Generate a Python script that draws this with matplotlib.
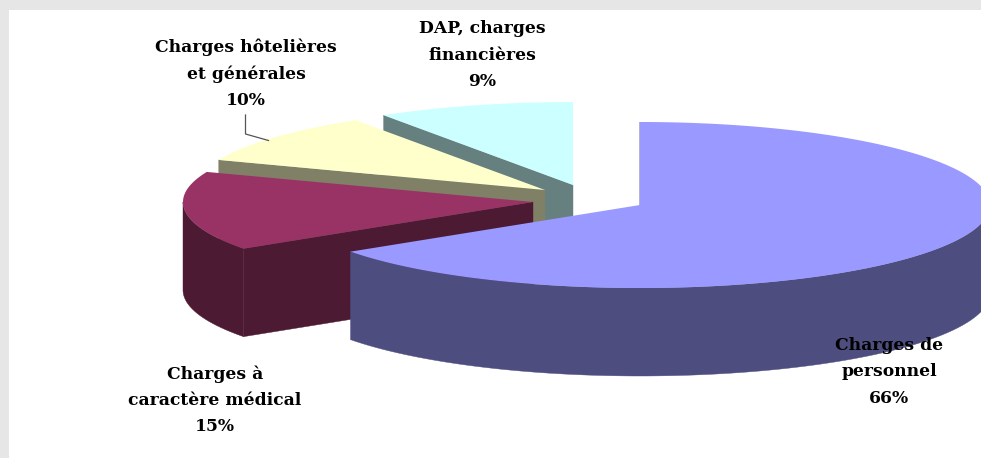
import numpy as np
import matplotlib
matplotlib.use("Agg")
import matplotlib.pyplot as plt
from matplotlib.patches import Polygon, Rectangle

# Data
categories = ["Charges de\npersonnel", "Charges à\ncaractère médical",
              "Charges hôtelières\net générales", "DAP, charges\nfinancières"]
values = [65.5, 15.4, 10.0, 9.1]
percent_labels = ["66%", "15%", "10%", "9%"]

# Style / layout
top_colors = ["#9999ff", "#993366", "#ffffcc", "#ccffff"]
wall_colors = ["#4d4d80", "#4d1a33", "#808066", "#668080"]
apexes = [(640, 205), (533, 202), (545, 190), (573, 185)]
label_pos = [(889, 372), (215, 400), (246, 74), (482, 55)]
RX, RY, DEPTH = 350, 83, 88

fig = plt.figure(figsize=(9.81, 4.58), dpi=100, facecolor="#e6e6e6")
ax = fig.add_axes([0, 0, 1, 1])
ax.set_xlim(0, 981)
ax.set_ylim(458, 0)
ax.axis("off")
ax.add_patch(Rectangle((9, 10), 972, 448, fc="white", ec="none", zorder=0))

# clockwise from 12 o'clock
sweeps = np.array(values) / sum(values) * 360.0
starts = 90 - np.concatenate([[0], np.cumsum(sweeps)[:-1]])


def rim(cx, cy, a0, a1):
    t = np.radians(np.linspace(a0, a1, 240))
    return np.column_stack([cx + RX * np.cos(t), cy - RY * np.sin(t)])


z = 1
for i in [3, 2, 1, 0]:
    cx, cy = apexes[i]
    a0, a1 = starts[i], starts[i] - sweeps[i]
    arc = rim(cx, cy, a0, a1)
    # cut face on the leading radius
    first = arc[0]
    cut = [(cx, cy), tuple(first), (first[0], first[1] + DEPTH), (cx, cy + DEPTH)]
    ax.add_patch(Polygon(cut, closed=True, fc=wall_colors[i], ec=wall_colors[i], lw=0.3, zorder=z))
    # outer wall: only the front half of the rim can be seen
    for w0, w1 in [(-180, 0), (180, 360)]:
        lo, hi = max(a1, w0), min(a0, w1)
        if hi > lo:
            edge = rim(cx, cy, hi, lo)
            wall = np.vstack([edge, edge[::-1] + [0, DEPTH]])
            ax.add_patch(Polygon(wall, closed=True, fc=wall_colors[i], ec=wall_colors[i], lw=0.3, zorder=z + 0.1))
    top = np.vstack([[cx, cy], arc])
    ax.add_patch(Polygon(top, closed=True, fc=top_colors[i], ec="none", zorder=z + 0.2))
    z += 1

# leader line of the third label
ax.plot([245.5, 245.5, 268.5], [115, 134, 140.5], color="#555555", lw=0.9, zorder=6)

for (x, y), name, pct in zip(label_pos, categories, percent_labels):
    ax.text(x, y, name + "\n" + pct, ha="center", va="center", ma="center",
            family="DejaVu Serif", weight="bold", fontsize=12.3,
            linespacing=1.7, color="black", zorder=7)

fig.savefig("out.png", dpi=100, facecolor=fig.get_facecolor())
